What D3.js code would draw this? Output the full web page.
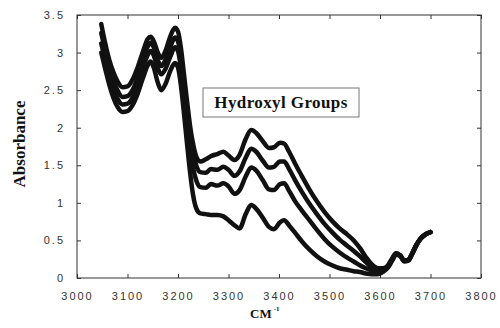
<!DOCTYPE html>
<html>
<head>
<meta charset="utf-8">
<script src="https://cdn.jsdelivr.net/npm/d3@7"></script>
<style>
  html, body { margin: 0; padding: 0; background: #fff; }
  svg { display: block; }
</style>
</head>
<body>
<svg id="chart" width="500" height="328"></svg>
<script>
// Wavenumbers (cm^-1) at which the four absorbance spectra are sampled
const wavenumbers = [
  3048, 3056, 3064, 3072, 3080, 3090, 3100, 3110, 3120, 3130,
  3140, 3146, 3152, 3160, 3167, 3175, 3185, 3194, 3200, 3206,
  3212, 3218, 3224, 3230, 3236, 3244, 3255, 3265, 3278, 3290,
  3300, 3312, 3322, 3334, 3345, 3355, 3368, 3380, 3390, 3402,
  3410, 3420, 3432, 3445, 3460, 3475, 3490, 3505, 3520, 3535,
  3548, 3560, 3572, 3584, 3596, 3606, 3616, 3624, 3632, 3640,
  3648, 3656, 3664, 3672, 3680, 3690, 3700
];

// Absorbance spectra, highest to lowest
const spectrum1 = [
  3.38, 3.12, 2.90, 2.74, 2.62, 2.54, 2.55, 2.64, 2.80, 3.00,
  3.18, 3.21, 3.15, 3.00, 2.93, 3.02, 3.22, 3.33, 3.28, 3.05,
  2.70, 2.35, 2.02, 1.78, 1.62, 1.55, 1.58, 1.62, 1.65, 1.68,
  1.63, 1.57, 1.64, 1.85, 1.97, 1.93, 1.82, 1.73, 1.74, 1.80,
  1.79, 1.68, 1.52, 1.36, 1.18, 1.02, 0.88, 0.76, 0.66, 0.58,
  0.50, 0.40, 0.28, 0.18, 0.13, 0.13, 0.17, 0.26, 0.33, 0.30,
  0.23, 0.24, 0.33, 0.44, 0.52, 0.58, 0.61
];
const spectrum2 = [
  3.26, 3.02, 2.80, 2.62, 2.50, 2.41, 2.42, 2.50, 2.66, 2.88,
  3.08, 3.13, 3.07, 2.90, 2.82, 2.90, 3.08, 3.20, 3.15, 2.92,
  2.58, 2.22, 1.90, 1.66, 1.50, 1.41, 1.40, 1.45, 1.44, 1.48,
  1.44, 1.36, 1.42, 1.60, 1.72, 1.68, 1.56, 1.47, 1.48, 1.55,
  1.55, 1.45, 1.30, 1.15, 0.99, 0.85, 0.72, 0.61, 0.51, 0.43,
  0.36, 0.29, 0.21, 0.14, 0.11, 0.11, 0.16, 0.25, 0.33, 0.30,
  0.23, 0.24, 0.33, 0.44, 0.52, 0.58, 0.61
];
const spectrum3 = [
  3.12, 2.90, 2.68, 2.51, 2.39, 2.31, 2.32, 2.40, 2.56, 2.78,
  2.97, 3.02, 2.96, 2.79, 2.71, 2.78, 2.95, 3.07, 3.02, 2.78,
  2.42, 2.05, 1.72, 1.46, 1.30, 1.21, 1.20, 1.25, 1.23, 1.26,
  1.22, 1.12, 1.17, 1.35, 1.47, 1.43, 1.30, 1.18, 1.17, 1.25,
  1.26, 1.16, 1.02, 0.90, 0.77, 0.64, 0.52, 0.42, 0.34, 0.27,
  0.22, 0.17, 0.13, 0.10, 0.09, 0.10, 0.15, 0.24, 0.32, 0.30,
  0.23, 0.24, 0.33, 0.44, 0.52, 0.58, 0.61
];
const spectrum4 = [
  3.00, 2.78, 2.57, 2.40, 2.28, 2.21, 2.22, 2.30, 2.45, 2.65,
  2.83, 2.88, 2.80, 2.60, 2.50, 2.58, 2.76, 2.86, 2.80, 2.55,
  2.18, 1.78, 1.40, 1.10, 0.93, 0.86, 0.85, 0.84, 0.84, 0.82,
  0.77, 0.70, 0.66, 0.85, 0.97, 0.92, 0.80, 0.68, 0.65, 0.74,
  0.77, 0.70, 0.60, 0.49, 0.38, 0.29, 0.22, 0.17, 0.13, 0.11,
  0.09, 0.08, 0.06, 0.05, 0.05, 0.08, 0.14, 0.23, 0.31, 0.29,
  0.22, 0.23, 0.32, 0.43, 0.52, 0.58, 0.61
];
const spectra = [spectrum1, spectrum2, spectrum3, spectrum4];

// Axis ticks
const xTicks = [3000, 3100, 3200, 3300, 3400, 3500, 3600, 3700, 3800];
const yTicks = [0, 0.5, 1, 1.5, 2, 2.5, 3, 3.5];
const yTickLabels = ["0", "0.5", "1", "1.5", "2", "2.5", "3", "3.5"];

const annotation = "Hydroxyl Groups";
const xTitle = "CM";
const xTitleSup = "-1";
const yTitle = "Absorbance";

const SERIF = '"Liberation Serif", "Times New Roman", serif';
const SANS = '"Liberation Sans", Arial, sans-serif';

const svg = d3.select("#chart");
const plot = { left: 77, right: 481, top: 15, bottom: 278 };

const x = d3.scaleLinear().domain([3000, 3800]).range([plot.left, plot.right]);
const y = d3.scaleLinear().domain([0, 3.5]).range([plot.bottom, plot.top]);

// Bottom axis with inward ticks
svg.append("g").attr("transform", `translate(0,${plot.bottom})`)
  .call(d3.axisBottom(x).tickValues(xTicks).tickSizeInner(-4).tickSizeOuter(0).tickPadding(14)
    .tickFormat(d3.format("d")));
// Left axis with inward ticks
svg.append("g").attr("transform", `translate(${plot.left},0)`)
  .call(d3.axisLeft(y).tickValues(yTicks).tickSizeInner(-4).tickSizeOuter(0).tickPadding(12)
    .tickFormat((d, i) => yTickLabels[i]));
// Mirrored top and right ticks
svg.append("g").attr("transform", `translate(0,${plot.top})`)
  .call(d3.axisTop(x).tickValues(xTicks).tickSizeInner(-4).tickSizeOuter(0).tickFormat(""));
svg.append("g").attr("transform", `translate(${plot.right},0)`)
  .call(d3.axisRight(y).tickValues(yTicks).tickSizeInner(-4).tickSizeOuter(0).tickFormat(""));

svg.selectAll(".domain").remove();
svg.selectAll(".tick line").attr("stroke", "#333").attr("stroke-width", 1);
svg.selectAll(".tick text")
  .style("font-family", SANS)
  .style("font-size", "11px")
  .style("letter-spacing", "2px")
  .attr("fill", "#333");

// Plot frame
svg.append("rect")
  .attr("x", plot.left).attr("y", plot.top)
  .attr("width", plot.right - plot.left).attr("height", plot.bottom - plot.top)
  .attr("fill", "none").attr("stroke", "#333").attr("stroke-width", 1);

// Spectra drawn as heavy traces
const line = d3.line()
  .x((d, i) => x(wavenumbers[i]))
  .y(d => y(d))
  .curve(d3.curveMonotoneX);

svg.append("g").selectAll("path")
  .data(spectra)
  .join("path")
  .attr("d", line)
  .attr("fill", "none")
  .attr("stroke", "#111")
  .attr("stroke-width", 4.5)
  .attr("stroke-linejoin", "round")
  .attr("stroke-linecap", "round");

// Annotation box
const box = svg.append("g");
box.append("rect")
  .attr("x", 203).attr("y", 88).attr("width", 156).attr("height", 29)
  .attr("fill", "#fff").attr("stroke", "#777").attr("stroke-width", 1);
box.append("text")
  .attr("x", 281).attr("y", 108)
  .attr("text-anchor", "middle")
  .style("font-family", SERIF).style("font-weight", "bold").style("font-size", "17px")
  .style("letter-spacing", "0.4px")
  .attr("fill", "#111")
  .text(annotation);

// Axis titles
const xt = svg.append("text")
  .attr("x", 250).attr("y", 318)
  .style("font-family", SERIF).style("font-weight", "bold").style("font-size", "13px")
  .attr("fill", "#111");
xt.append("tspan").text(xTitle);
xt.append("tspan").attr("dy", -7).attr("dx", 2).style("font-size", "7px").text(xTitleSup);

svg.append("text")
  .attr("transform", `translate(25,144) rotate(-90)`)
  .attr("text-anchor", "middle")
  .style("font-family", SERIF).style("font-weight", "bold").style("font-size", "17px")
  .attr("fill", "#111")
  .text(yTitle);
</script>
</body>
</html>
